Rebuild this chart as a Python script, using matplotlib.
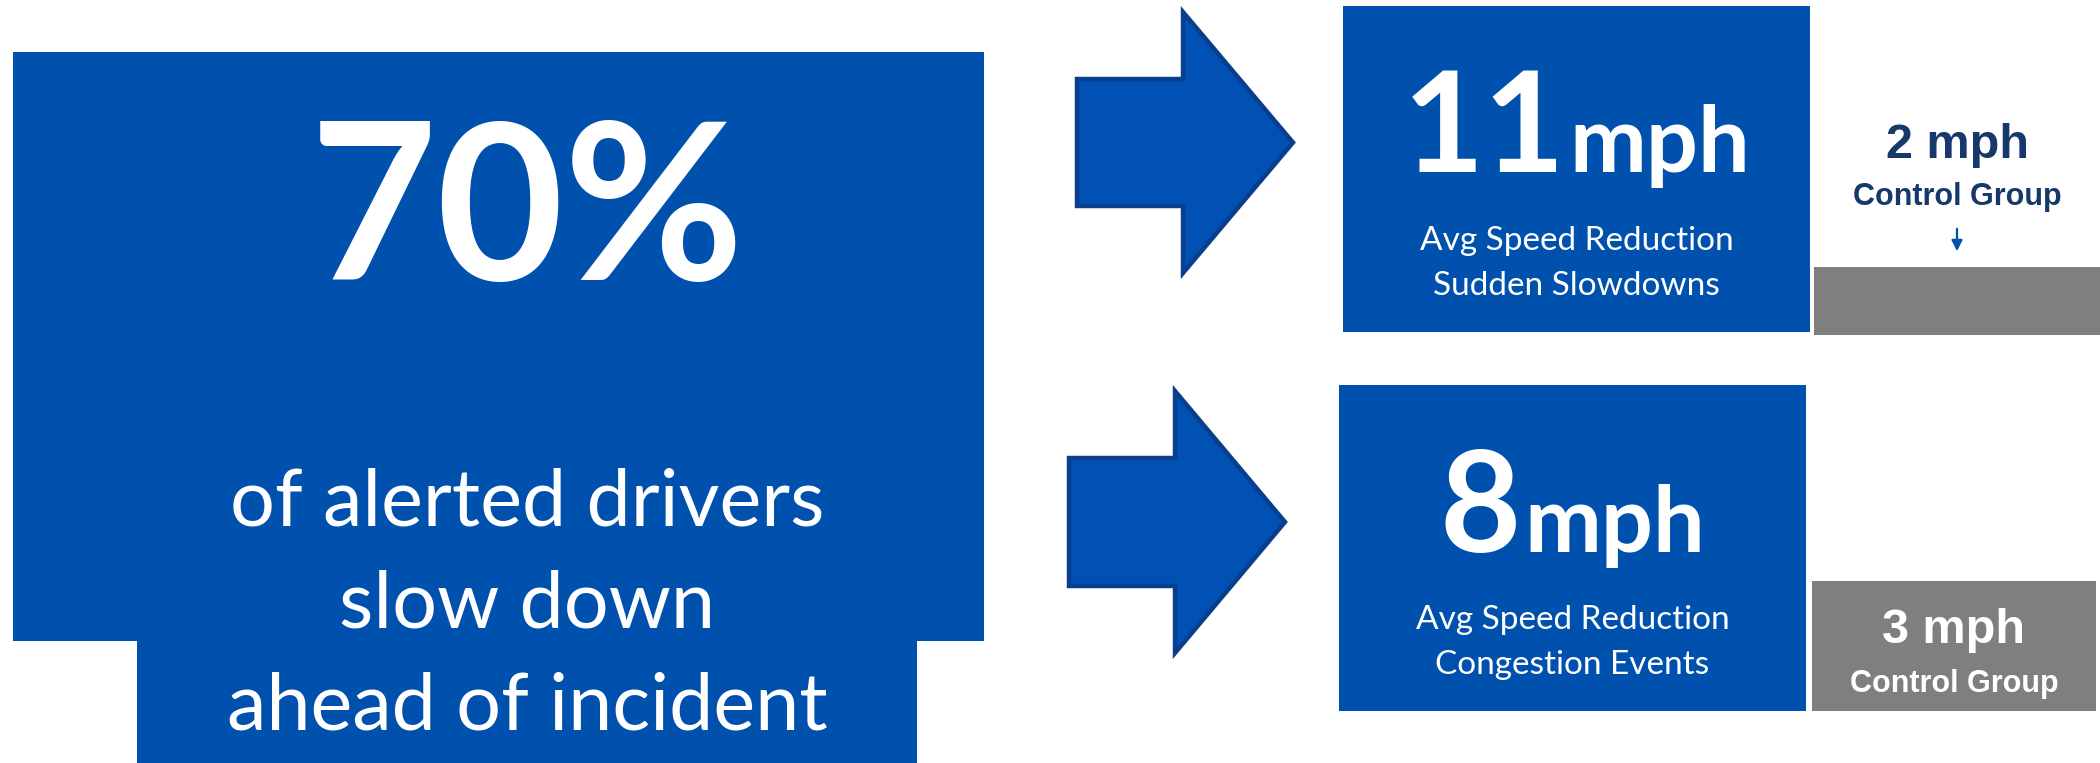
import matplotlib
matplotlib.use("Agg")
import matplotlib.pyplot as plt
from matplotlib.patches import Rectangle, Polygon

# ---- data ----
headline_value = "70%"
headline_lines = ["of alerted drivers", "slow down", "ahead of incident"]
event_values = ["11", "8"]
event_unit = "mph"
event_labels = [["Avg Speed Reduction", "Sudden Slowdowns"],
                ["Avg Speed Reduction", "Congestion Events"]]
control_values = ["2 mph", "3 mph"]
control_label = "Control Group"

BLUE = "#0050AE"
ARROW_FILL = "#0051B3"
ARROW_EDGE = "#083E8C"
NAVY = "#17386B"
GREY = "#7F7F7F"
W, H = 2100, 763

fig = plt.figure(figsize=(W / 100, H / 100), dpi=100)
ax = fig.add_axes([0, 0, 1, 1])
ax.set_xlim(0, W)
ax.set_ylim(H, 0)
ax.axis("off")

MAIN = "Lato"
ARIAL = "Liberation Sans"

# ---- big left panel ----
ax.add_patch(Rectangle((13, 52), 971, 589, color=BLUE, lw=0))
ax.add_patch(Rectangle((137, 640), 780, 123, color=BLUE, lw=0))
ax.text(527, 280, headline_value, color="white", fontsize=158, fontweight="bold",
        family=MAIN, ha="center", va="baseline")
for txt, yb in zip(headline_lines, [525, 627, 730]):
    ax.text(527, yb, txt, color="white", fontsize=57, family=MAIN,
            ha="center", va="baseline")

# ---- arrows ----
def block_arrow(x0, xb, xt, y_top, y_bot, s_top, s_bot):
    ym = (y_top + y_bot) / 2
    pts = [(x0, s_top), (xb, s_top), (xb, y_top), (xt, ym),
           (xb, y_bot), (xb, s_bot), (x0, s_bot)]
    ax.add_patch(Polygon(pts, closed=True, facecolor=ARROW_FILL,
                         edgecolor=ARROW_EDGE, lw=3.2, joinstyle="miter"))

block_arrow(1077, 1183, 1293, 12, 273, 79, 206)
block_arrow(1069, 1175, 1285, 391, 653, 458, 586)

# ---- event boxes ----
boxes = [(1343, 6, 467, 326), (1339, 385, 467, 326)]
num_base = [172, 552]
lab_base = [[250, 295], [629, 674]]

fig.canvas.draw()
r = fig.canvas.get_renderer()
inv = ax.transData.inverted()

def width_data(t):
    bb = t.get_window_extent(renderer=r)
    p0 = inv.transform((bb.x0, bb.y0))
    p1 = inv.transform((bb.x1, bb.y0))
    return p1[0] - p0[0]

for i, (bx, by, bw, bh) in enumerate(boxes):
    ax.add_patch(Rectangle((bx, by), bw, bh, color=BLUE, lw=0))
    cx = bx + bw / 2
    t1 = ax.text(0, num_base[i], event_values[i], color="white", fontsize=101,
                 fontweight="bold", family=MAIN, ha="left", va="baseline")
    t2 = ax.text(0, num_base[i], event_unit, color="white", fontsize=66,
                 fontweight="bold", family=MAIN, ha="left", va="baseline")
    w1 = width_data(t1)
    w2 = width_data(t2)
    gap = 4
    start = cx - (w1 + gap + w2) / 2
    t1.set_x(start)
    t2.set_x(start + w1 + gap)
    for txt, yb in zip(event_labels[i], lab_base[i]):
        ax.text(cx, yb, txt, color="white", fontsize=24, family=MAIN,
                ha="center", va="baseline")

# ---- control group ----
# top: text above grey bar
ax.add_patch(Rectangle((1814, 267), 286, 68, color=GREY, lw=0))
ax.text(1957, 158, control_values[0], color=NAVY, fontsize=35, family=ARIAL,
        fontweight="bold", ha="center", va="baseline")
ax.text(1957, 205, control_label, color=NAVY, fontsize=22, family=ARIAL,
        fontweight="bold", ha="center", va="baseline")
ax.annotate("", xy=(1957, 254), xytext=(1957, 226),
            arrowprops=dict(arrowstyle="-|>", color=BLUE, lw=1.6,
                            mutation_scale=16))

# bottom: text inside grey box
ax.add_patch(Rectangle((1812, 581), 284, 130, color=GREY, lw=0))
ax.text(1954, 643, control_values[1], color="white", fontsize=35, family=ARIAL,
        fontweight="bold", ha="center", va="baseline")
ax.text(1954, 692, control_label, color="white", fontsize=22, family=ARIAL,
        fontweight="bold", ha="center", va="baseline")

fig.savefig("out.png", dpi=100, facecolor="white")
